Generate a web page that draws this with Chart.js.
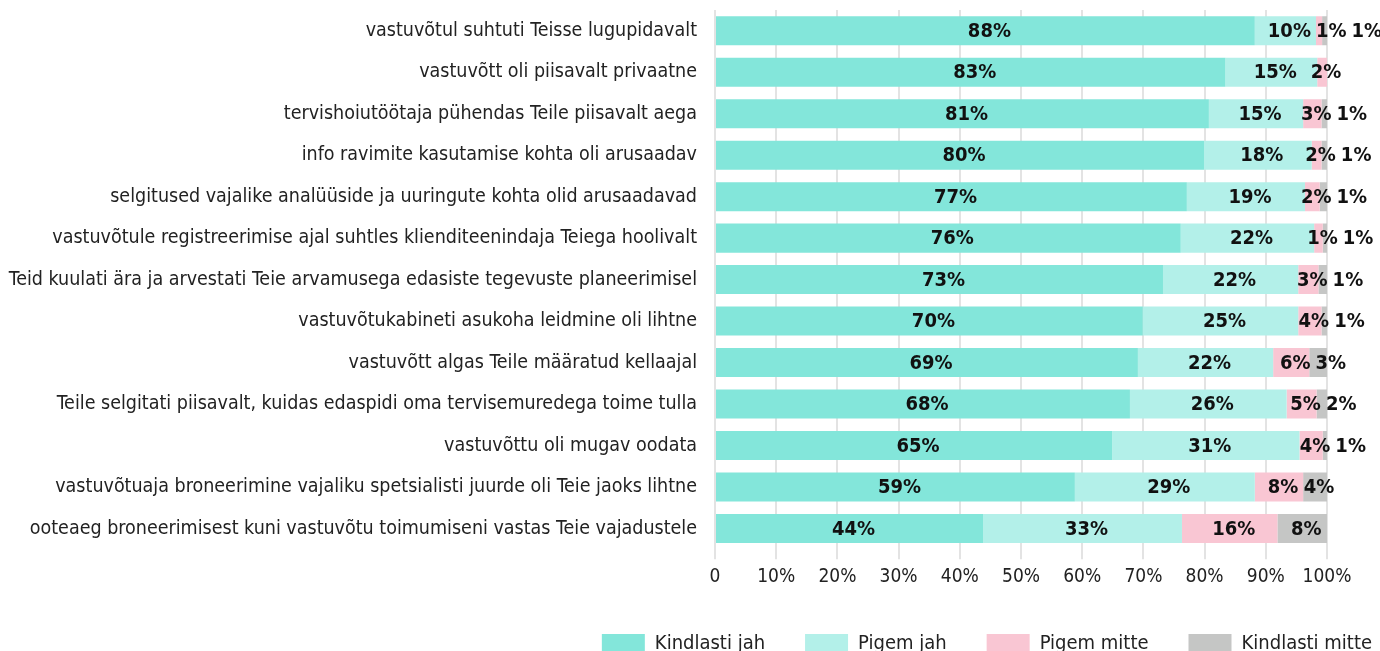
<!DOCTYPE html>
<html>
<head>
<meta charset="utf-8">
<script src="https://cdn.jsdelivr.net/npm/chart.js@4.4.1/dist/chart.umd.min.js"></script>
<style>
  html, body { margin: 0; padding: 0; background: #fff; overflow: hidden; }
  #wrap { position: relative; width: 1380px; height: 664px; }
</style>
</head>
<body>
<div id="wrap"><canvas id="barChart"></canvas></div>
<script>
var categories = [
  'vastuvõtul suhtuti Teisse lugupidavalt',
  'vastuvõtt oli piisavalt privaatne',
  'tervishoiutöötaja pühendas Teile piisavalt aega',
  'info ravimite kasutamise kohta oli arusaadav',
  'selgitused vajalike analüüside ja uuringute kohta olid arusaadavad',
  'vastuvõtule registreerimise ajal suhtles klienditeenindaja Teiega hoolivalt',
  'Teid kuulati ära ja arvestati Teie arvamusega edasiste tegevuste planeerimisel',
  'vastuvõtukabineti asukoha leidmine oli lihtne',
  'vastuvõtt algas Teile määratud kellaajal',
  'Teile selgitati piisavalt, kuidas edaspidi oma tervisemuredega toime tulla',
  'vastuvõttu oli mugav oodata',
  'vastuvõtuaja broneerimine vajaliku spetsialisti juurde oli Teie jaoks lihtne',
  'ooteaeg broneerimisest kuni vastuvõtu toimumiseni vastas Teie vajadustele'
];
var seriesNames = ['Kindlasti jah', 'Pigem jah', 'Pigem mitte', 'Kindlasti mitte'];
var kindlastiJah   = [88.2, 83.4, 80.7, 79.9, 77.1, 76.1, 73.2, 69.9, 69.1, 67.8, 64.9, 58.8, 43.8];
var pigemJah       = [10.0, 15.0, 15.4, 17.6, 19.3, 21.8, 22.1, 25.4, 22.1, 25.6, 30.6, 29.4, 32.5];
var pigemMitte     = [1.0, 1.6, 3.0, 1.6, 2.4, 1.4, 3.3, 3.8, 5.9, 4.9, 3.8, 7.9, 15.6];
var kindlastiMitte = [0.8, 0, 0.9, 0.9, 1.2, 0.7, 1.4, 0.9, 2.9, 1.7, 0.7, 3.9, 8.1];
var xTicks = [0, 10, 20, 30, 40, 50, 60, 70, 80, 90, 100];

var colors = ['#83e6da', '#b3f0e9', '#f9c6d3', '#c5c6c5'];
var fontFamily = "'Liberation Sans Narrow', 'DejaVu Sans Condensed', sans-serif";

// value labels, pushed right when they would overlap the previous one
var barLabels = {
  id: 'barLabels',
  afterDatasetsDraw: function(chart) {
    var ctx = chart.ctx;
    ctx.save();
    ctx.font = 'bold 20px ' + fontFamily;
    ctx.fillStyle = '#111';
    ctx.textBaseline = 'middle';
    ctx.textAlign = 'left';
    for (var i = 0; i < categories.length; i++) {
      var prevRight = -1000;
      chart.data.datasets.forEach(function(ds, d) {
        var v = ds.data[i];
        if (!v) return;
        var bar = chart.getDatasetMeta(d).data[i];
        var txt = Math.round(v) + '%';
        var w = ctx.measureText(txt).width;
        var cx = (bar.x + bar.base) / 2 + 4;
        var left = Math.max(cx - w / 2, prevRight + 5);
        ctx.fillText(txt, left, bar.y + 1);
        prevRight = left + w;
      });
    }
    ctx.restore();
  }
};

// move the legend to the right edge of the canvas
var legendShift = {
  id: 'legendShift',
  afterLayout: function(chart) {
    var lg = chart.legend;
    var dx = 85;
    lg.left += dx;
    lg.right += dx;
  }
};

var ctx = document.getElementById('barChart').getContext('2d');
var barChart = new Chart(ctx, {
  type: 'bar',
  data: {
    labels: categories,
    datasets: [
      { label: seriesNames[0], data: kindlastiJah, backgroundColor: colors[0] },
      { label: seriesNames[1], data: pigemJah, backgroundColor: colors[1] },
      { label: seriesNames[2], data: pigemMitte, backgroundColor: colors[2] },
      { label: seriesNames[3], data: kindlastiMitte, backgroundColor: colors[3] }
    ]
  },
  options: {
    indexAxis: 'y',
    responsive: true,
    maintainAspectRatio: false,
    animation: false,
    barPercentage: 0.7,
    categoryPercentage: 1,
    layout: { padding: { top: 10, right: 53, left: 0, bottom: 0 } },
    plugins: {
      legend: {
        position: 'bottom',
        align: 'end',
        labels: {
          boxWidth: 43,
          boxHeight: 20,
          padding: 40,
          color: '#222',
          font: { family: fontFamily, size: 20 }
        }
      },
      tooltip: { enabled: false }
    },
    scales: {
      x: {
        stacked: true,
        min: 0,
        max: 100,
        afterBuildTicks: function(s) { s.ticks = xTicks.map(function(v) { return { value: v }; }); },
        grid: { color: '#e3e3e3', lineWidth: 2, tickLength: 10, drawTicks: true },
        border: { display: false },
        ticks: {
          color: '#222',
          padding: 6,
          font: { family: fontFamily, size: 19 },
          callback: function(v) { return v === 0 ? '0' : v + '%'; }
        }
      },
      y: {
        stacked: true,
        grid: { display: false, drawTicks: false },
        border: { display: false },
        afterFit: function(s) {
          s.width = 715;
          s.paddingTop = 0;
          s.paddingBottom = 0;
        },
        ticks: {
          color: '#222',
          padding: 18,
          font: { family: fontFamily, size: 19.5 }
        }
      }
    }
  },
  plugins: [barLabels, legendShift]
});
</script>
</body>
</html>
